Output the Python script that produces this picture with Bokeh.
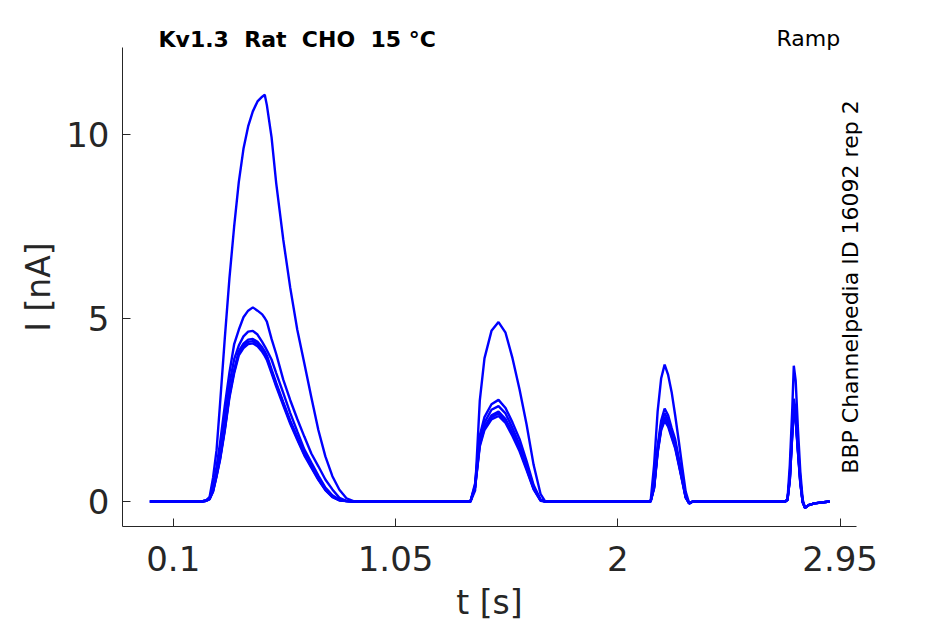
from bokeh.plotting import figure
from bokeh.models import Range1d, FixedTicker, Label
from bokeh.embed import file_html
from bokeh.resources import INLINE

# ---- data (time in s, current in nA) ----
t_grid = [0.0, 0.22, 0.24, 0.255, 0.27, 0.285, 0.30, 0.32, 0.34, 0.36, 0.38, 0.40,
          0.42, 0.44, 0.46, 0.48, 0.491, 0.50, 0.52, 0.54, 0.57, 0.60, 0.63, 0.66,
          0.69, 0.72, 0.75, 0.78, 0.81, 0.84, 0.87, 0.90,
          1.37, 1.39, 1.41, 1.43, 1.46, 1.49, 1.52, 1.55, 1.58, 1.61, 1.64, 1.67, 1.69, 1.72,
          2.14, 2.155, 2.17, 2.185, 2.20, 2.215, 2.23, 2.245, 2.26, 2.275, 2.29, 2.305, 2.32,
          2.715, 2.725, 2.735, 2.745, 2.752, 2.76, 2.77, 2.78, 2.79, 2.80, 2.815, 2.84, 2.905]

trace_a = [0, 0, 0.03, 0.12, 0.65, 1.4, 2.67, 4.43, 6.08, 7.48, 8.7, 9.61,
           10.22, 10.63, 10.9, 11.03, 11.08, 10.8, 9.93, 8.67, 7.14, 5.82, 4.68, 3.77,
           2.84, 1.95, 1.23, 0.69, 0.32, 0.09, 0.01, 0,
           0.0, 0.3, 2.75, 3.9, 4.65, 4.89, 4.6, 3.9, 3.05, 2.1, 1.0, 0.2, 0.0, 0.0,
           0.0, 1.0, 2.45, 3.35, 3.73, 3.45, 2.98, 2.35, 1.67, 0.95, 0.27, -0.05, 0.0,
           0.0, 0.05, 1.0, 2.45, 3.7, 3.3, 1.95, 0.8, 0.05, -0.17, -0.1, -0.05, 0.0]

trace_b = [0, 0, 0.02, 0.1, 0.4, 0.95, 1.6, 2.6, 3.51, 4.28, 4.68, 5.02,
           5.2, 5.29, 5.2, 5.1, 5.0, 4.9, 4.43, 4.02, 3.32, 2.76, 2.25, 1.77,
           1.31, 0.96, 0.6, 0.33, 0.1, 0.02, 0, 0,
           0.0, 0.5, 1.8, 2.3, 2.65, 2.77, 2.55, 2.15, 1.7, 1.1, 0.45, 0.05, 0.0, 0.0,
           0.0, 0.45, 1.5, 2.2, 2.53, 2.35, 2.0, 1.7, 1.2, 0.7, 0.15, -0.05, 0.0,
           0.0, 0.05, 0.7, 2.0, 2.8, 2.5, 1.5, 0.6, 0.0, -0.17, -0.1, -0.05, 0.0]

trace_c = [0, 0, 0.02, 0.08, 0.35, 0.8, 1.3, 2.25, 3.2, 3.87, 4.25, 4.5,
           4.63, 4.65, 4.55, 4.35, 4.23, 4.12, 3.87, 3.5, 2.96, 2.41, 1.91, 1.42,
           1.06, 0.71, 0.38, 0.17, 0.05, 0.01, 0, 0,
           0.0, 0.45, 1.7, 2.15, 2.5, 2.6, 2.4, 2.0, 1.55, 1.0, 0.4, 0.04, 0.0, 0.0,
           0.0, 0.42, 1.42, 2.1, 2.4, 2.23, 1.9, 1.6, 1.12, 0.65, 0.13, -0.05, 0.0,
           0.0, 0.05, 0.65, 1.9, 2.65, 2.38, 1.42, 0.55, 0.0, -0.17, -0.1, -0.05, 0.0]

trace_d = [0, 0, 0.02, 0.07, 0.3, 0.72, 1.2, 2.0, 2.93, 3.57, 4.1, 4.3,
           4.41, 4.43, 4.35, 4.2, 4.09, 3.98, 3.6, 3.23, 2.71, 2.2, 1.76, 1.32,
           0.98, 0.63, 0.34, 0.14, 0.04, 0.01, 0, 0,
           0.0, 0.4, 1.6, 2.05, 2.35, 2.45, 2.25, 1.88, 1.45, 0.92, 0.36, 0.03, 0.0, 0.0,
           0.0, 0.4, 1.38, 2.02, 2.3, 2.14, 1.82, 1.53, 1.07, 0.6, 0.12, -0.05, 0.0,
           0.0, 0.05, 0.6, 1.82, 2.55, 2.3, 1.38, 0.52, -0.02, -0.17, -0.1, -0.05, 0.0]

trace_e = [0, 0, 0.02, 0.07, 0.28, 0.7, 1.17, 1.96, 2.88, 3.54, 4.04, 4.24,
           4.35, 4.37, 4.29, 4.14, 4.03, 3.92, 3.55, 3.18, 2.67, 2.16, 1.72, 1.29,
           0.95, 0.61, 0.32, 0.13, 0.04, 0.01, 0, 0,
           0.0, 0.4, 1.55, 2.0, 2.3, 2.4, 2.2, 1.84, 1.42, 0.9, 0.35, 0.03, 0.0, 0.0,
           0.0, 0.38, 1.35, 1.98, 2.25, 2.09, 1.78, 1.49, 1.04, 0.58, 0.11, -0.05, 0.0,
           0.0, 0.05, 0.6, 1.78, 2.5, 2.25, 1.35, 0.5, -0.02, -0.17, -0.1, -0.05, 0.0]

trace_f = [0, 0, 0.02, 0.06, 0.27, 0.68, 1.14, 1.92, 2.83, 3.49, 3.98, 4.18,
           4.29, 4.31, 4.23, 4.08, 3.97, 3.86, 3.5, 3.13, 2.62, 2.12, 1.68, 1.26,
           0.92, 0.59, 0.31, 0.12, 0.03, 0.01, 0, 0,
           0.0, 0.38, 1.5, 1.95, 2.24, 2.33, 2.14, 1.78, 1.37, 0.86, 0.33, 0.02, 0.0, 0.0,
           0.0, 0.36, 1.32, 1.94, 2.2, 2.04, 1.74, 1.45, 1.01, 0.56, 0.1, -0.05, 0.0,
           0.0, 0.04, 0.58, 1.75, 2.45, 2.2, 1.32, 0.48, -0.02, -0.17, -0.1, -0.05, 0.0]

traces = [trace_a, trace_b, trace_c, trace_d, trace_e, trace_f]

x_ticks = [0.1, 1.05, 2, 2.95]
x_tick_labels = ["0.1", "1.05", "2", "2.95"]
y_ticks = [0, 5, 10]
y_tick_labels = ["0", "5", "10"]

title_text = "Kv1.3 \u00a0Rat \u00a0CHO \u00a015 °C"
protocol_text = "Ramp"
side_text = "BBP Channelpedia ID 16092 rep 2"

# ---- figure ----
FONT = "DejaVu Sans"
INK = "#262626"

p = figure(width=945, height=624, output_backend="svg", toolbar_location=None,
           x_range=Range1d(-0.117, 3.02), y_range=Range1d(-0.68, 12.37),
           min_border_left=122, min_border_right=89, min_border_top=47,
           min_border_bottom=98)
p.outline_line_color = None
p.xgrid.visible = False
p.ygrid.visible = False
p.background_fill_color = "white"
p.border_fill_color = "white"

for tr in traces:
    p.line(t_grid, tr, line_color="#0000FF", line_width=2.4)

for ax, ticks, labels in ((p.xaxis[0], x_ticks, x_tick_labels),
                          (p.yaxis[0], y_ticks, y_tick_labels)):
    ax.ticker = FixedTicker(ticks=ticks)
    ax.major_label_overrides = {t: l for t, l in zip(ticks, labels)}
    ax.minor_tick_line_color = None
    ax.major_tick_in = 8
    ax.major_tick_out = 0
    ax.axis_line_color = INK
    ax.major_tick_line_color = INK
    ax.major_label_text_color = INK
    ax.major_label_text_font = FONT
    ax.major_label_text_font_size = "34px"
    ax.axis_label_text_font = FONT
    ax.axis_label_text_font_size = "33px"
    ax.axis_label_text_font_style = "normal"
    ax.axis_label_text_color = INK

p.xaxis.axis_label = "t [s]"
p.yaxis.axis_label = "I [nA]"
p.xaxis.major_label_standoff = 19
p.yaxis.major_label_standoff = 13
p.xaxis.axis_label_standoff = 9
p.yaxis.axis_label_standoff = 5

p.add_layout(Label(x=0.037, y=12.59, text=title_text, text_font=FONT,
                   text_font_style="bold", text_font_size="22px",
                   text_color="black", text_align="left",
                   text_baseline="middle"), "above")
p.add_layout(Label(x=2.95, y=12.62, text=protocol_text, text_font=FONT,
                   text_font_size="22px", text_color="black",
                   text_align="right", text_baseline="middle"), "right")
p.add_layout(Label(x=2.994, y=5.845, text=side_text, text_font=FONT,
                   text_font_size="22px", text_color="black", angle=1.5708,
                   text_align="center", text_baseline="middle"), "right")

open("out.html", "w").write(file_html(p, INLINE))
